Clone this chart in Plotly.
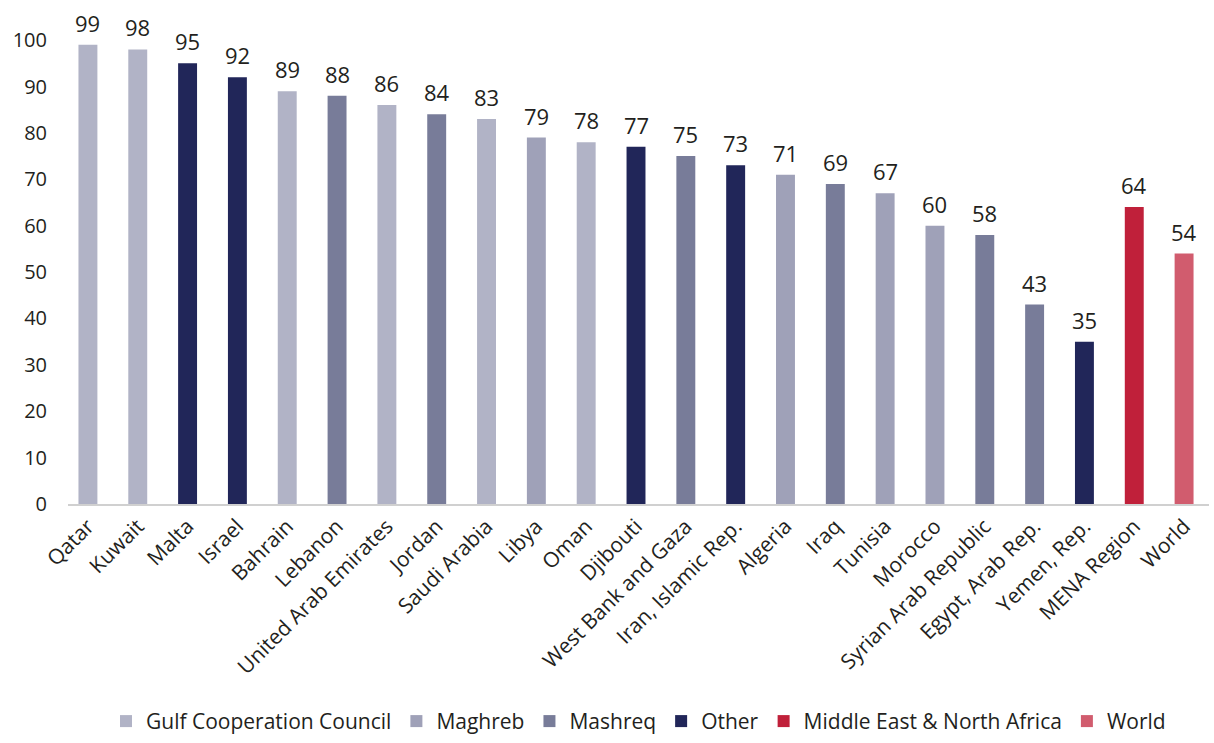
import plotly.graph_objects as go

countries = ["Qatar", "Kuwait", "Malta", "Israel", "Bahrain", "Lebanon",
             "United Arab Emirates", "Jordan", "Saudi Arabia", "Libya", "Oman",
             "Djibouti", "West Bank and Gaza", "Iran, Islamic Rep.", "Algeria",
             "Iraq", "Tunisia", "Morocco", "Syrian Arab Republic",
             "Egypt, Arab Rep.", "Yemen, Rep.", "MENA Region", "World"]
values = [99, 98, 95, 92, 89, 88, 86, 84, 83, 79, 78, 77, 75, 73, 71, 69, 67,
          60, 58, 43, 35, 64, 54]
groups = ["Gulf Cooperation Council", "Gulf Cooperation Council", "Other", "Other",
          "Gulf Cooperation Council", "Mashreq", "Gulf Cooperation Council",
          "Mashreq", "Gulf Cooperation Council", "Maghreb",
          "Gulf Cooperation Council", "Other", "Mashreq", "Other", "Maghreb",
          "Mashreq", "Maghreb", "Maghreb", "Mashreq", "Mashreq", "Other",
          "Middle East & North Africa", "World"]

group_order = ["Gulf Cooperation Council", "Maghreb", "Mashreq", "Other",
               "Middle East & North Africa", "World"]
group_colors = {
    "Gulf Cooperation Council": "#b1b3c6",
    "Maghreb": "#9fa1b8",
    "Mashreq": "#787c99",
    "Other": "#212659",
    "Middle East & North Africa": "#c0203a",
    "World": "#d15c6e",
}

FONT = "Open Sans, Noto Sans, sans-serif"
TEXT = "#231f20"

fig = go.Figure()
for g in group_order:
    xs = [c for c, gg in zip(countries, groups) if gg == g]
    ys = [v for v, gg in zip(values, groups) if gg == g]
    fig.add_trace(go.Bar(
        x=xs, y=ys, name=g,
        marker=dict(color=group_colors[g], line=dict(width=0)),
        width=0.38,
    ))

# value labels above each bar
for c, v in zip(countries, values):
    fig.add_annotation(x=c, y=v, text=str(v), showarrow=False,
                       yanchor="bottom", yshift=5,
                       font=dict(family=FONT, size=22, color=TEXT))

fig.update_layout(
    width=1214, height=743,
    margin=dict(l=68, r=5, t=3, b=238),
    paper_bgcolor="white", plot_bgcolor="white",
    barmode="relative",
    font=dict(family=FONT, color=TEXT),
    showlegend=True,
    legend=dict(orientation="h", x=0.5, xanchor="center", y=-0.472,
                yanchor="bottom", font=dict(family=FONT, size=21, color=TEXT),
                itemwidth=30, tracegroupgap=0),
)
fig.update_xaxes(
    categoryorder="array", categoryarray=countries,
    range=[-0.4, 22.5], automargin=False,
    tickangle=-45, tickfont=dict(family=FONT, size=21, color=TEXT),
    showline=True, linecolor="#d0d0d0", linewidth=1.5,
    ticks="", showgrid=False,
)
fig.update_yaxes(
    range=[0, 108], tickvals=list(range(0, 101, 10)), automargin=False,
    tickfont=dict(family=FONT, size=20, color=TEXT),
    showgrid=False, zeroline=False, showline=False, ticks="",
    ticklabelstandoff=20,
)

fig.write_html("out.html")
